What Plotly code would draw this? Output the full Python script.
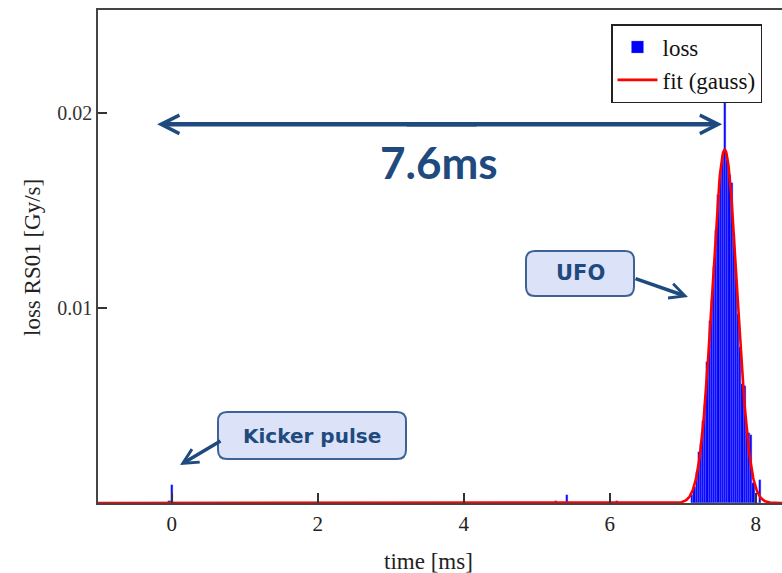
import numpy as np
import plotly.graph_objects as go

# ---- data -------------------------------------------------------------
# histogram of loss rate (Gy/s) per 0.03 ms bin
BIN_WIDTH = 0.03
spike_times = [-0.03, 0.00, 5.26, 5.42, 6.10]
spike_loss = [0.0001, 0.0009, 0.0001, 0.0004, 0.00012]

peak_times = [7.13, 7.16, 7.19, 7.22, 7.25, 7.28, 7.31, 7.34, 7.37, 7.40,
              7.43, 7.46, 7.49, 7.52, 7.55, 7.58, 7.61, 7.64, 7.67, 7.70,
              7.73, 7.76, 7.79, 7.82, 7.85, 7.88, 7.91, 7.94, 7.97, 8.00,
              8.03, 8.06]
peak_loss = [0.0004, 0.0008, 0.0016, 0.0026, 0.0030, 0.0042, 0.0050, 0.0072,
             0.0093, 0.0104, 0.0121, 0.0140, 0.0158, 0.0170, 0.0178, 0.0207,
             0.0176, 0.0168, 0.0164, 0.0138, 0.0118, 0.0097, 0.0080, 0.0061,
             0.0060, 0.0038, 0.0036, 0.0035, 0.0010, 0.0004, 0.0000, 0.0012]

# gaussian fit parameters
FIT_AMP = 0.0181
FIT_MEAN = 7.575
FIT_SIGMA = 0.17

x_ticks = [0, 2, 4, 6, 8]
y_ticks = [0.01, 0.02]
X_RANGE = [-1.01, 8.36]
Y_RANGE = [0.0, 0.02526]

# ---- figure -----------------------------------------------------------
W, H = 782, 573
ML, MR, MT, MB = 98, 0, 10, 70
PW, PH = W - ML - MR, H - MT - MB

NAVY = "#1F4A7E"
BOX_FILL = "#DCE2F8"
BOX_LINE = "#3D6395"


def px_x(p):
    return (p - ML) / PW


def px_y(p):
    return (H - MB - p) / PH


def rounded_box(x0, y0, x1, y1, r=9):
    # rounded rectangle in paper coordinates from pixel corners
    rx, ry = r / PW, r / PH
    a, b = px_x(x0), px_x(x1)
    top, bot = px_y(y0), px_y(y1)
    return (f"M {a+rx},{top} L {b-rx},{top} Q {b},{top} {b},{top-ry} "
            f"L {b},{bot+ry} Q {b},{bot} {b-rx},{bot} "
            f"L {a+rx},{bot} Q {a},{bot} {a},{bot+ry} "
            f"L {a},{top-ry} Q {a},{top} {a+rx},{top} Z")


bar_x = spike_times + peak_times
bar_y = spike_loss + peak_loss

fit_x = np.linspace(X_RANGE[0], X_RANGE[1], 1500)
fit_y = FIT_AMP * np.exp(-((fit_x - FIT_MEAN) ** 2) / (2 * FIT_SIGMA ** 2))

fig = go.Figure()
fig.add_trace(go.Bar(
    x=bar_x, y=bar_y, width=BIN_WIDTH, name="loss",
    marker=dict(color="#0000FF", line=dict(color="rgba(120,120,255,1)", width=0.35)),
))
fig.add_trace(go.Scatter(
    x=fit_x, y=fit_y, mode="lines", name="fit (gauss)",
    line=dict(color="#FF0000", width=2.6),
))

serif = "Liberation Serif"

fig.update_layout(
    width=W, height=H,
    margin=dict(l=ML, r=MR, t=MT, b=MB),
    paper_bgcolor="white", plot_bgcolor="white",
    bargap=0,
    showlegend=True,
    legend=dict(
        x=px_x(611), y=px_y(24), xanchor="left", yanchor="top",
        bgcolor="white", bordercolor="#222", borderwidth=1.5,
        font=dict(family=serif, size=23, color="#111"),
        tracegroupgap=0, itemwidth=40,
    ),
    xaxis=dict(
        range=X_RANGE, tickvals=x_ticks, ticktext=[str(v) for v in x_ticks],
        ticks="inside", ticklen=10, tickwidth=1.5, tickcolor="#333",
        showline=True, linecolor="#444", linewidth=1.5, mirror=True,
        showgrid=False, zeroline=False,
        tickfont=dict(family=serif, size=21, color="#222"),
        ticklabelstandoff=1,
    ),
    yaxis=dict(
        range=Y_RANGE, tickvals=y_ticks, ticktext=["0.01", "0.02"],
        ticks="inside", ticklen=9, tickwidth=1.5, tickcolor="#333",
        showline=True, linecolor="#444", linewidth=1.5,
        showgrid=False, zeroline=False,
        tickfont=dict(family=serif, size=20, color="#333"),
    ),
    shapes=[
        dict(type="path", xref="paper", yref="paper",
             path=rounded_box(526, 251, 634, 296),
             fillcolor=BOX_FILL, line=dict(color=BOX_LINE, width=2)),
        dict(type="path", xref="paper", yref="paper",
             path=rounded_box(218, 412, 406, 459),
             fillcolor=BOX_FILL, line=dict(color=BOX_LINE, width=2)),
    ],
)

annotations = [
    # axis titles
    dict(text="loss RS01 [Gy/s]", xref="paper", yref="paper",
         x=px_x(32), y=px_y(258), xanchor="center", yanchor="middle",
         textangle=-90, showarrow=False,
         font=dict(family=serif, size=23, color="#222")),
    dict(text="time [ms]", xref="paper", yref="paper",
         x=px_x(428), y=px_y(561), xanchor="center", yanchor="middle",
         showarrow=False,
         font=dict(family=serif, size=23, color="#222")),
    # double arrow marking the delay between kicker pulse and the UFO
    dict(text="", x=-0.2, y=0.0194, ax=4.2, ay=0.0194, axref="x", ayref="y",
         showarrow=True, arrowhead=5, arrowsize=0.8, arrowwidth=4.5, arrowcolor=NAVY),
    dict(text="", x=7.54, y=0.0194, ax=3.2, ay=0.0194, axref="x", ayref="y",
         showarrow=True, arrowhead=5, arrowsize=0.8, arrowwidth=4.5, arrowcolor=NAVY),
    dict(text="<b>7.6ms</b>", xref="paper", yref="paper",
         x=px_x(439), y=px_y(162), xanchor="center", yanchor="middle",
         showarrow=False,
         font=dict(family="Lato", size=44, color=NAVY)),
    # callouts
    dict(text="<b>UFO</b>", xref="paper", yref="paper",
         x=px_x(580), y=px_y(273), xanchor="center", yanchor="middle",
         showarrow=False,
         font=dict(family="DejaVu Sans", size=21, color=NAVY)),
    dict(text="", xref="paper", yref="paper", x=px_x(688), y=px_y(297),
         ax=634 - 688, ay=278 - 297, showarrow=True, arrowhead=5,
         arrowsize=0.85, arrowwidth=3.5, arrowcolor=NAVY),
    dict(text="<b>Kicker pulse</b>", xref="paper", yref="paper",
         x=px_x(312), y=px_y(436), xanchor="center", yanchor="middle",
         showarrow=False,
         font=dict(family="DejaVu Sans", size=20, color=NAVY)),
    dict(text="", xref="paper", yref="paper", x=px_x(180), y=px_y(465),
         ax=222 - 180, ay=440 - 465, showarrow=True, arrowhead=5,
         arrowsize=0.85, arrowwidth=3.5, arrowcolor=NAVY),
]
fig.update_layout(annotations=annotations)

fig.write_html("out.html")
